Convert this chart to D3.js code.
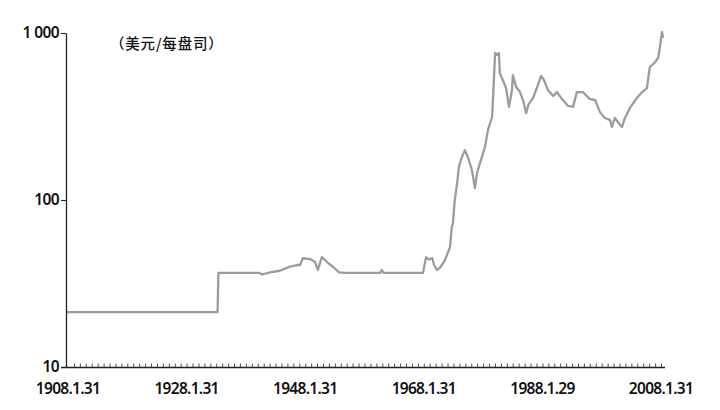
<!DOCTYPE html>
<html><head><meta charset="utf-8">
<script src="https://cdn.jsdelivr.net/npm/d3@7"></script>
<style>
body{margin:0;background:#fff;}
svg{display:block;}
</style></head>
<body>
<svg id="chart" width="720" height="410"></svg>
<script>
// Gold price, USD per ounce
const years = [1907.85,1933.3,1933.45,1940.4,1940.8,1942.15,1943.8,1945.5,1946.7,1947.2,1947.7,1948.9,1949.7,1950.2,1950.9,1951.75,1952.8,1953.8,1954.8,1960.7,1961.0,1961.3,1967.95,1968.45,1968.95,1969.5,1969.8,1970.3,1970.8,1971.65,1972.5,1972.8,1973.0,1973.3,1973.7,1974.0,1974.5,1975.0,1975.5,1976.2,1976.7,1977.05,1977.55,1978.4,1978.9,1979.6,1979.9,1980.1,1980.4,1980.75,1980.9,1981.4,1981.95,1982.45,1982.95,1983.1,1983.65,1984.3,1984.8,1985.35,1985.7,1986.5,1987.2,1987.85,1988.35,1989.0,1989.9,1990.55,1991.4,1992.4,1993.25,1993.9,1994.9,1996.1,1996.95,1997.8,1998.6,1999.5,1999.8,2000.3,2001.2,2001.5,2002.0,2002.85,2004.0,2004.9,2005.7,2006.2,2007.1,2007.6,2007.9,2008.25,2008.4];
const prices = [21.3,21.3,36.6,36.6,35.8,36.9,37.7,39.9,40.8,40.8,44.8,44.3,42.7,38.1,45.6,42.5,39.7,36.9,36.6,36.6,38.1,36.6,36.6,45.4,44,45,40.8,38.1,39.2,43.7,52.3,68.9,72.8,100,126,158,181,199,181,151,118,145,166,208,263,314,523,759,738,759,576,523,468,361,456,560,475,443,397,332,371,408,475,553,523,456,420,443,402,366,361,443,443,402,397,336,310,301,274,310,281,274,310,356,408,443,468,626,670,709,825,1014,933];

const yTickValues = [10, 100, 1000];
const yTickLabels = ["10", "100", "1 000"];
const xTickYears = [1908.08, 1928.08, 1948.08, 1968.08, 1988.08, 2008.08];
const xTickLabels = ["1908.1.31", "1928.1.31", "1948.1.31", "1968.1.31", "1988.1.29", "2008.1.31"];
const unitLabel = "（美元/每盘司）";

const svg = d3.select("#chart");
const x = d3.scaleLinear().domain([1908.08, 2008.08]).range([68, 661]);
const y = d3.scaleLog().domain([10, 1000]).range([367, 33]);

const font = "'Noto Sans', 'DejaVu Sans', sans-serif";

// price line
const line = d3.line().x((d, i) => x(years[i])).y(d => y(d));
svg.append("path")
  .datum(prices)
  .attr("d", line)
  .attr("fill", "none")
  .attr("stroke", "#9c9c9c")
  .attr("stroke-width", 2.3)
  .attr("stroke-linejoin", "round");

// y axis
const yAxis = d3.axisLeft(y)
  .tickValues(yTickValues)
  .tickFormat((d, i) => yTickLabels[i])
  .tickSizeInner(5)
  .tickSizeOuter(0)
  .tickPadding(2);
const gy = svg.append("g").attr("transform", "translate(66,0)").call(yAxis);
gy.select(".domain").attr("stroke", "#222").attr("stroke-width", 1.3);
gy.selectAll(".tick line").attr("stroke", "#222").attr("stroke-width", 1.1);
gy.selectAll(".tick text")
  .attr("font-family", font).attr("font-size", 15.5)
  .attr("letter-spacing", "-0.6px")
  .attr("fill", "#111").attr("font-weight", 600);

// x axis: yearly ticks pointing up
const yearTicks = d3.range(1909, 2009).map(v => v + 0.08);
const xAxis = d3.axisBottom(x)
  .tickValues(yearTicks)
  .tickFormat("")
  .tickSizeInner(-4)
  .tickSizeOuter(0);
const gx = svg.append("g").attr("transform", "translate(0,367.5)").call(xAxis);
gx.select(".domain").remove();
gx.selectAll(".tick line").attr("stroke", "#444").attr("stroke-width", 0.9);
svg.append("line")
  .attr("x1", 61).attr("x2", 665)
  .attr("y1", 367.5).attr("y2", 367.5)
  .attr("stroke", "#222").attr("stroke-width", 1.3);

// x tick labels
svg.append("g").selectAll("text")
  .data(xTickYears)
  .join("text")
  .attr("x", d => x(d))
  .attr("y", 394)
  .attr("text-anchor", "middle")
  .attr("font-family", font)
  .attr("font-size", 15.5)
  .attr("letter-spacing", "-0.7px")
  .attr("font-weight", 600)
  .attr("fill", "#111")
  .text((d, i) => xTickLabels[i]);

// unit label
svg.append("text")
  .attr("x", 110)
  .attr("y", 49)
  .attr("font-family", "'Noto Sans CJK SC', sans-serif")
  .attr("font-size", 14.5)
  .attr("letter-spacing", "0.8px")
  .attr("font-weight", 500)
  .attr("fill", "#111")
  .text(unitLabel);
</script>
</body></html>
